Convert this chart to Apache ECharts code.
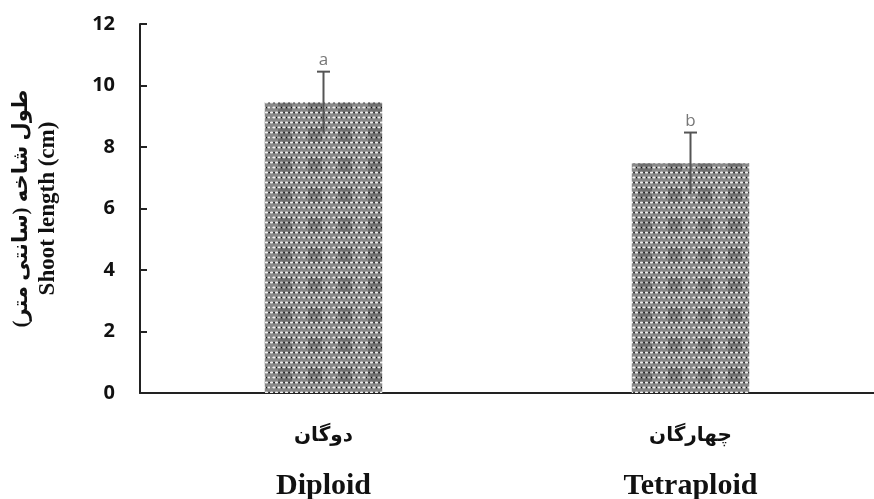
<!DOCTYPE html>
<html>
<head>
<meta charset="utf-8">
<script src="https://cdn.jsdelivr.net/npm/echarts@6/dist/echarts.min.js"></script>
<style>
html,body{margin:0;padding:0;background:#fff;}
#chart{width:874px;height:499px;}
</style>
</head>
<body>
<div id="chart"></div>
<script>
// ---- data ----
const categoriesFa = ['دوگان', 'چهارگان'];
const categoriesEn = ['Diploid', 'Tetraploid'];
const means = [9.45, 7.47];
const errors = [1.0, 1.0];
const letters = ['a', 'b'];
const yMin = 0, yMax = 12, yInterval = 2;
const yTitleFa = 'طول شاخه (سانتی متر)\u200F';
const yTitleEn = 'Shoot length (cm)';

// ---- pattern fill ----
function makePattern() {
  const c = document.createElement('canvas');
  c.width = 30; c.height = 30;
  const g = c.getContext('2d');
  g.fillStyle = '#888888';
  g.fillRect(0, 0, 30, 30);
  for (let y = 0; y < 30; y += 5) {
    for (let x = 0; x < 30; x += 5) {
      const off = ((y / 5) % 2) ? 2.5 : 0;
      g.fillStyle = '#eeeeee';
      g.beginPath();
      g.ellipse(x + off + 1.5, y + 2.5, 1.7, 0.9, 0, 0, Math.PI * 2);
      g.fill();
      g.fillStyle = '#111';
      g.fillRect(x + off + 3.4, y + 1.9, 1.4, 1.4);
    }
  }
  g.fillStyle = 'rgba(0,0,0,0.18)';
  g.fillRect(8, 8, 14, 14);
  return c;
}

const chart = echarts.init(document.getElementById('chart'), null, {renderer: 'canvas'});

const errData = means.map((m, i) => [i, m, m - errors[i], m + errors[i], letters[i]]);

chart.setOption({
  backgroundColor: '#fff',
  animation: false,
  grid: {left: 140, right: 0, top: 24, bottom: 106, outerBoundsMode: 'none', containLabel: false},
  xAxis: {
    type: 'category',
    data: categoriesFa,
    axisLine: {show: true, lineStyle: {color: '#222', width: 2}},
    axisTick: {show: false},
    axisLabel: {
      margin: 29,
      interval: 0,
      formatter: function (v, i) {
        return '{fa|' + v + '}\n{en|' + categoriesEn[i] + '}';
      },
      rich: {
        fa: {fontFamily: 'Liberation Serif, DejaVu Sans', fontWeight: 'bold', fontSize: 20, color: '#111', lineHeight: 28},
        en: {fontFamily: 'Liberation Serif', fontWeight: 'bold', fontSize: 30, color: '#111', lineHeight: 72}
      }
    }
  },
  yAxis: {
    type: 'value',
    min: yMin, max: yMax, interval: yInterval,
    splitLine: {show: false},
    axisLine: {show: true, lineStyle: {color: '#222', width: 2}},
    axisTick: {show: true, inside: true, length: 7, lineStyle: {color: '#222', width: 2}},
    axisLabel: {
      margin: 25,
      fontFamily: 'Open Sans, Noto Sans, sans-serif',
      fontWeight: 'bold',
      fontSize: 20,
      color: '#111'
    },
    name: '{fa|' + yTitleFa + '}\n{en|' + yTitleEn + '}',
    nameLocation: 'middle',
    nameRotate: 90,
    nameGap: 79,
    nameTextStyle: {
      rich: {
        fa: {fontFamily: 'Liberation Serif, DejaVu Sans', fontWeight: 'bold', fontSize: 21, color: '#111', lineHeight: 26},
        en: {fontFamily: 'Liberation Serif', fontWeight: 'bold', fontSize: 23, color: '#111', lineHeight: 26}
      }
    }
  },
  series: [
    {
      type: 'bar',
      data: means,
      barWidth: '32%',
      itemStyle: {color: {image: makePattern(), repeat: 'repeat'}},
      z: 2
    },
    {
      type: 'custom',
      z: 5,
      data: errData,
      renderItem: function (params, api) {
        const x = api.coord([api.value(0), api.value(1)])[0];
        const lo = api.coord([api.value(0), api.value(2)]);
        const hi = api.coord([api.value(0), api.value(3)]);
        const cap = 6.5;
        const style = {stroke: '#555', lineWidth: 2};
        return {
          type: 'group',
          children: [
            {type: 'line', shape: {x1: x, y1: lo[1], x2: x, y2: hi[1]}, style: style},
            {type: 'line', shape: {x1: x - cap, y1: hi[1], x2: x + cap, y2: hi[1]}, style: style},
            {type: 'text', style: {
              x: x, y: hi[1] - 3, text: api.value(4),
              textAlign: 'center', textVerticalAlign: 'bottom',
              fontFamily: 'Open Sans, Noto Sans, sans-serif', fontSize: 17, fill: '#777'
            }}
          ]
        };
      }
    }
  ]
});
</script>
</body>
</html>
